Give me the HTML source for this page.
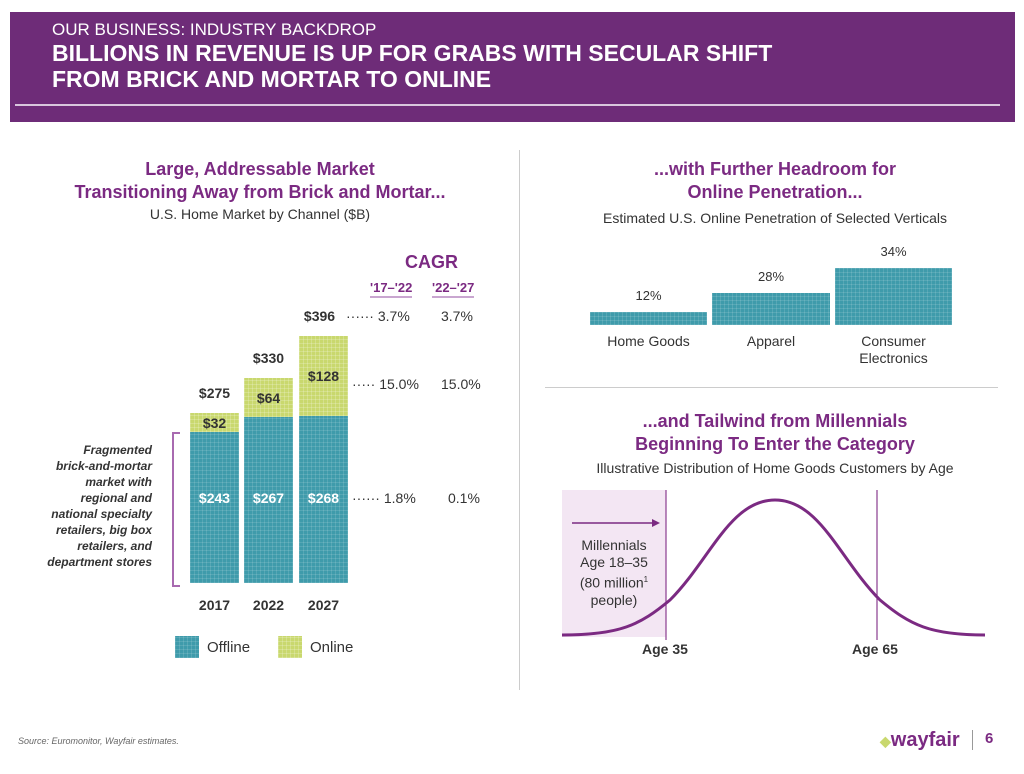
<!DOCTYPE html>
<html><head><meta charset="utf-8"><style>
body{margin:0;width:1024px;height:774px;background:#fff;font-family:"Liberation Sans",sans-serif;position:relative;overflow:hidden}
.a{position:absolute;white-space:nowrap}
.p{color:#7b2a82;font-weight:bold}
.g{color:#333}
.c{text-align:center}
.bl{background:#3f9bab;background-image:repeating-linear-gradient(90deg,rgba(255,255,255,.12) 0 1px,transparent 1px 4px),repeating-linear-gradient(0deg,rgba(255,255,255,.12) 0 1px,transparent 1px 4px)}
.gr{background:#c9d86e;background-image:repeating-linear-gradient(90deg,rgba(255,255,255,.2) 0 1px,transparent 1px 4px),repeating-linear-gradient(0deg,rgba(255,255,255,.2) 0 1px,transparent 1px 4px)}
.v{color:#fff;font-weight:bold;font-size:14px;width:49px;text-align:center}
.d{color:#333;font-weight:bold;font-size:14px;width:49px;text-align:center}
</style></head><body>
<div class="a" style="left:10px;top:12px;width:1005px;height:110px;background:#6e2c78"></div>
<div class="a" style="left:15px;top:104px;width:985px;height:2px;background:#d9c6dd"></div>
<div class="a" style="left:52px;top:20px;color:#fff;font-size:17px">OUR BUSINESS: INDUSTRY BACKDROP</div>
<div class="a" style="left:52px;top:40px;color:#fff;font-size:23px;font-weight:bold;line-height:26px">BILLIONS IN REVENUE IS UP FOR GRABS WITH SECULAR SHIFT<br>FROM BRICK AND MORTAR TO ONLINE</div>

<div class="a p c" style="left:30px;top:158px;width:460px;font-size:18px;line-height:23px">Large, Addressable Market<br>Transitioning Away from Brick and Mortar...</div>
<div class="a g c" style="left:30px;top:206px;width:460px;font-size:14px">U.S. Home Market by Channel ($B)</div>
<div class="a" style="left:519px;top:150px;width:1px;height:540px;background:#ccc"></div>

<div class="a p" style="left:405px;top:252px;font-size:18px">CAGR</div>
<div class="a p" style="left:370px;top:280px;font-size:13px;border-bottom:2px solid #c9a6d0;padding-bottom:1px">'17–'22</div>
<div class="a p" style="left:432px;top:280px;font-size:13px;border-bottom:2px solid #c9a6d0;padding-bottom:1px">'22–'27</div>

<div class="a gr" style="left:190px;top:413px;width:49px;height:19px"></div>
<div class="a bl" style="left:190px;top:432px;width:49px;height:151px"></div>
<div class="a gr" style="left:244px;top:378px;width:49px;height:39px"></div>
<div class="a bl" style="left:244px;top:417px;width:49px;height:166px"></div>
<div class="a gr" style="left:299px;top:336px;width:49px;height:80px"></div>
<div class="a bl" style="left:299px;top:416px;width:49px;height:167px"></div>
<div class="a d" style="left:190px;top:385px">$275</div>
<div class="a d" style="left:244px;top:350px">$330</div>
<div class="a d" style="left:295px;top:308px">$396</div>
<div class="a d" style="left:190px;top:415px">$32</div>
<div class="a d" style="left:244px;top:390px">$64</div>
<div class="a d" style="left:299px;top:368px">$128</div>
<div class="a v" style="left:190px;top:490px">$243</div>
<div class="a v" style="left:244px;top:490px">$267</div>
<div class="a v" style="left:299px;top:490px">$268</div>
<div class="a g" style="left:346px;top:308px;font-size:14px">······ 3.7%</div>
<div class="a g" style="left:441px;top:308px;font-size:14px">3.7%</div>
<div class="a g" style="left:352px;top:376px;font-size:14px">····· 15.0%</div>
<div class="a g" style="left:441px;top:376px;font-size:14px">15.0%</div>
<div class="a g" style="left:352px;top:490px;font-size:14px">······ 1.8%</div>
<div class="a g" style="left:448px;top:490px;font-size:14px">0.1%</div>
<div class="a" style="left:172px;top:432px;width:6px;height:151px;border:2px solid #a86ab0;border-right:none"></div>
<div class="a g" style="left:20px;top:442px;width:132px;font-size:12px;font-style:italic;font-weight:bold;text-align:right;line-height:16px">Fragmented<br>brick-and-mortar<br>market with<br>regional and<br>national specialty<br>retailers, big box<br>retailers, and<br>department stores</div>
<div class="a d" style="left:190px;top:597px">2017</div>
<div class="a d" style="left:244px;top:597px">2022</div>
<div class="a d" style="left:299px;top:597px">2027</div>
<div class="a bl" style="left:175px;top:636px;width:24px;height:22px"></div>
<div class="a g" style="left:207px;top:639px;font-size:15px">Offline</div>
<div class="a gr" style="left:278px;top:636px;width:24px;height:22px"></div>
<div class="a g" style="left:310px;top:639px;font-size:15px">Online</div>

<div class="a p c" style="left:540px;top:158px;width:470px;font-size:18px;line-height:23px">...with Further Headroom for<br>Online Penetration...</div>
<div class="a g c" style="left:540px;top:210px;width:470px;font-size:14px">Estimated U.S. Online Penetration of Selected Verticals</div>
<div class="a bl" style="left:590px;top:312px;width:117px;height:13px"></div>
<div class="a bl" style="left:712px;top:293px;width:118px;height:32px"></div>
<div class="a bl" style="left:835px;top:268px;width:117px;height:57px"></div>
<div class="a g c" style="left:590px;top:288px;width:117px;font-size:13px">12%</div>
<div class="a g c" style="left:712px;top:269px;width:118px;font-size:13px">28%</div>
<div class="a g c" style="left:835px;top:244px;width:117px;font-size:13px">34%</div>
<div class="a g c" style="left:590px;top:333px;width:117px;font-size:14px">Home Goods</div>
<div class="a g c" style="left:712px;top:333px;width:118px;font-size:14px">Apparel</div>
<div class="a g c" style="left:835px;top:333px;width:117px;font-size:14px;line-height:17px">Consumer<br>Electronics</div>
<div class="a" style="left:545px;top:387px;width:453px;height:1px;background:#ccc"></div>

<div class="a p c" style="left:540px;top:410px;width:470px;font-size:18px;line-height:23px">...and Tailwind from Millennials<br>Beginning To Enter the Category</div>
<div class="a g c" style="left:540px;top:460px;width:470px;font-size:14px">Illustrative Distribution of Home Goods Customers by Age</div>
<div class="a" style="left:562px;top:490px;width:104px;height:147px;background:#f3e6f3"></div>
<svg class="a" style="left:0;top:0" width="1024" height="774">
<line x1="666" y1="490" x2="666" y2="640" stroke="#8a3d90" stroke-width="1.2"/>
<line x1="877" y1="490" x2="877" y2="640" stroke="#8a3d90" stroke-width="1.2"/>
<path d="M562 635 C620 635 640 625 670 600 C710 560 730 500 775 500 C820 500 840 560 880 600 C910 625 930 635 985 635" fill="none" stroke="#7b2a82" stroke-width="3"/>
<line x1="572" y1="523" x2="656" y2="523" stroke="#7b2a82" stroke-width="1.5"/>
<polygon points="660,523 652,519 652,527" fill="#7b2a82"/>
</svg>
<div class="a g c" style="left:566px;top:537px;width:96px;font-size:14px;line-height:17px">Millennials<br>Age 18–35<br>(80 million<sup style="font-size:8px">1</sup><br>people)</div>
<div class="a g" style="left:642px;top:641px;font-size:14px;font-weight:bold">Age 35</div>
<div class="a g" style="left:852px;top:641px;font-size:14px;font-weight:bold">Age 65</div>

<div class="a" style="left:18px;top:736px;font-size:9px;font-style:italic;color:#666">Source: Euromonitor, Wayfair estimates.</div>
<div class="a" style="left:880px;top:729px;font-size:20px;font-weight:bold;color:#7b2a82"><span style="color:#c9d86e;font-size:14px">◆</span>wayfair</div>
<div class="a" style="left:972px;top:730px;width:1px;height:20px;background:#999"></div>
<div class="a" style="left:985px;top:730px;font-size:15px;font-weight:bold;color:#7b2a82">6</div>
</body></html>
